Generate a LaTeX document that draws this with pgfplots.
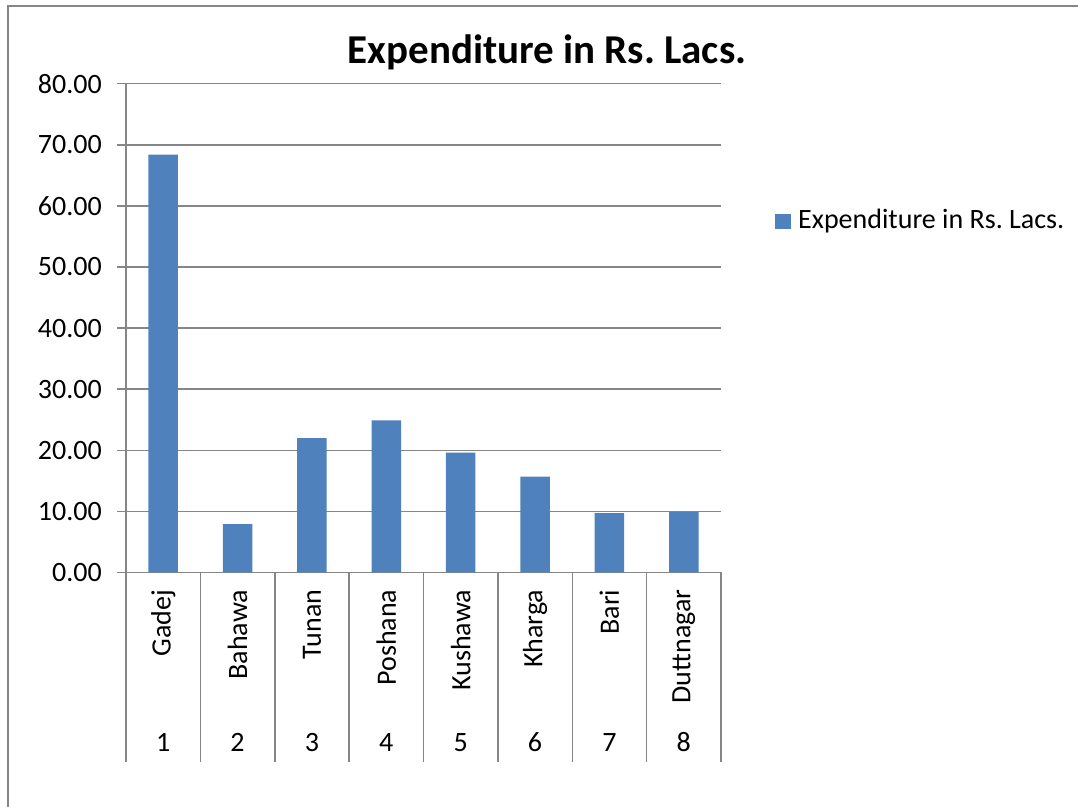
\documentclass[border=0pt]{standalone}
\usepackage{pgfplots}
\pgfplotsset{compat=1.18}
\usepackage{fontspec}
\usepackage{graphicx}
\setmainfont{Carlito}
\definecolor{barblue}{RGB}{79,129,189}
\definecolor{gridgray}{RGB}{134,134,134}
\newcommand\catlab[2]{\vbox to 162bp{\hbox to 60bp{\hss\rotatebox{90}{#1}\hss}\vfill\hbox to 60bp{\hss #2\hss}}}
\begin{document}
\frenchspacing
\fontsize{28bp}{33bp}\selectfont
\begin{tikzpicture}
\draw[gridgray, line width=1.5bp] (8bp,-20bp) -- (8bp,801bp) -- (1100bp,801bp);
\node[anchor=base, font=\fontsize{41bp}{48bp}\selectfont\bfseries] at (547bp,743.5bp) {Expenditure in Rs. Lacs.};
\begin{axis}[
  at={(126bp,234.5bp)}, anchor=south west,
  scale only axis, width=595bp, height=488.8bp,
  xmin=-0.5, xmax=7.5, ymin=0, ymax=80,
  axis x line*=bottom, axis y line*=left,
  axis line style={gridgray, line width=1.5bp},
  ytick={0,10,...,80},
  yticklabels={0.00,10.00,20.00,30.00,40.00,50.00,60.00,70.00,80.00},
  ymajorgrids, grid style={gridgray, line width=1.5bp},
  tick align=outside,
  major tick length=9bp,
  tick style={gridgray, line width=1.5bp},
  yticklabel style={anchor=east, inner sep=0pt, xshift=-15bp, font=\fontsize{28bp}{33bp}\selectfont},
  xtick={0,...,7},
  xtick style={draw=none},
  xticklabels={\catlab{Gadej}{1},\catlab{Bahawa}{2},\catlab{Tunan}{3},\catlab{Poshana}{4},\catlab{Kushawa}{5},\catlab{Kharga}{6},\catlab{Bari}{7},\catlab{Duttnagar}{8}},
  xticklabel style={anchor=north, inner sep=0pt, yshift=-8bp, font=\fontsize{28bp}{33bp}\selectfont},
  extra x ticks={-0.5,0.5,...,7.5},
  extra x tick labels={},
  extra x tick style={major tick length=189bp, grid=none,
    xtick style={draw=gridgray, line width=1.5bp}},
  legend style={at={(1.0908,0.719)}, anchor=west, draw=none, fill=none, inner sep=0pt,
    font=\fontsize{28bp}{33bp}\selectfont},
  legend image code/.code={\fill[barblue] (0bp,-7.5bp) rectangle (15.5bp,7.5bp); \path (21bp,0bp);},
]
\addplot[ybar, bar width=29.5bp, fill=barblue, draw=none] coordinates {
(0,68.4) (1,7.9) (2,22.0) (3,24.9) (4,19.6) (5,15.7) (6,9.7) (7,9.9)};
\addlegendentry{Expenditure in Rs. Lacs.}
\end{axis}
\pgfresetboundingbox
\useasboundingbox (0,0) rectangle (1078bp,807bp);
\end{tikzpicture}
\end{document}
